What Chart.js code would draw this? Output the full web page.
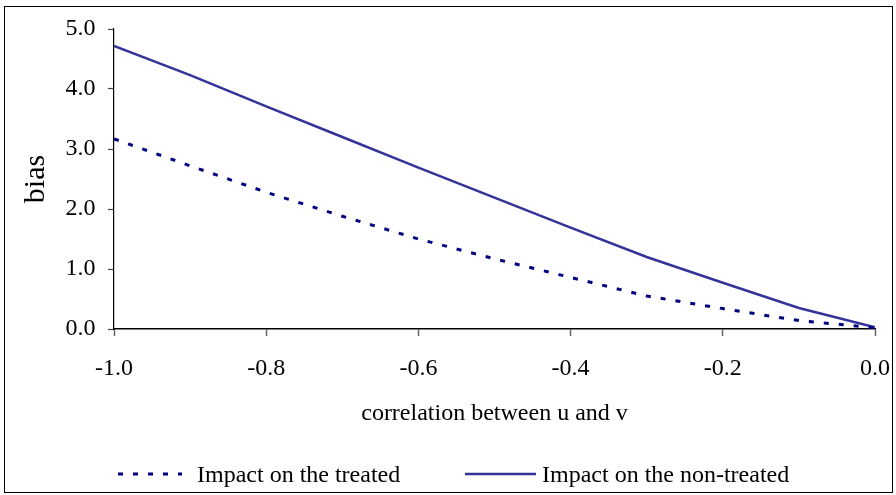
<!DOCTYPE html>
<html>
<head>
<meta charset="utf-8">
<script src="https://cdn.jsdelivr.net/npm/chart.js@4.4.1/dist/chart.umd.min.js"></script>
<style>
	html, body { margin: 0; padding: 0; background: #fff; }
	#wrap { width: 896px; height: 495px; }
</style>
</head>
<body>
<div id="wrap"><canvas id="c" width="896" height="495"></canvas></div>
<script>
// correlation between u and v
var corr = [-1.0, -0.9, -0.8, -0.7, -0.6, -0.5, -0.4, -0.3, -0.2, -0.1, 0.0];

// bias
var treated    = [3.17, 2.72, 2.28, 1.88, 1.50, 1.17, 0.86, 0.55, 0.34, 0.14, 0.02];
var nonTreated = [4.72, 4.23, 3.71, 3.20, 2.69, 2.19, 1.69, 1.20, 0.77, 0.35, 0.03];

var xTickLabels = ["-1.0", "-0.8", "-0.6", "-0.4", "-0.2", "0.0"];
var yTickLabels = ["0.0", "1.0", "2.0", "3.0", "4.0", "5.0"];

var seriesNames = ["Impact on the treated", "Impact on the non-treated"];

var FONT = "'Liberation Serif', 'Times New Roman', serif";

function toPoints(ys) {
	return corr.map(function(x, i) { return { x: x, y: ys[i] }; });
}

function findLabel(labels, v) {
	for(var i = 0; i < labels.length; i++) {
		if(Math.abs(parseFloat(labels[i]) - v) < 1e-6) return labels[i];
	}
	return "";
}

// 外枠
var framePlugin = {
	id: "frame",
	beforeDraw: function(chart) {
		var ctx = chart.ctx;
		ctx.save();
		ctx.fillStyle = "#fff";
		ctx.fillRect(0, 0, chart.width, chart.height);
		ctx.strokeStyle = "#000";
		ctx.lineWidth = 1;
		ctx.strokeRect(4.5, 6.5, 888, 486);
		ctx.restore();
	}
};

// 凡例 (datasets の線スタイルをそのまま使う)
var legendPlugin = {
	id: "sampleLegend",
	afterDraw: function(chart, args, opts) {
		var ctx = chart.ctx;
		ctx.save();
		ctx.font = opts.fontSize + "px " + FONT;
		ctx.textBaseline = "middle";
		ctx.textAlign = "left";
		ctx.fillStyle = "#000";
		chart.data.datasets.forEach(function(ds, i) {
			var it = opts.items[i];
			ctx.beginPath();
			ctx.setLineDash(ds.borderDash || []);
			ctx.lineCap = "butt";
			ctx.lineWidth = ds.borderWidth;
			ctx.strokeStyle = ds.borderColor;
			ctx.moveTo(it.x, opts.y);
			ctx.lineTo(it.x + it.w, opts.y);
			ctx.stroke();
			ctx.setLineDash([]);
			ctx.fillText(ds.label, it.x + it.w + it.gap, opts.y + 2);
		});
		ctx.restore();
	}
};

new Chart(document.getElementById("c").getContext("2d"), {
	type: "line",
	data: {
		datasets: [
			{
				label: seriesNames[0],
				data: toPoints(treated),
				borderColor: "#000080",
				backgroundColor: "#000080",
				borderWidth: 3,
				borderDash: [5, 10],
				borderCapStyle: "butt",
				pointRadius: 0,
				tension: 0,
				fill: false
			},
			{
				label: seriesNames[1],
				data: toPoints(nonTreated),
				borderColor: "#333399",
				backgroundColor: "#333399",
				borderWidth: 2.5,
				pointRadius: 0,
				tension: 0,
				fill: false
			}
		]
	},
	options: {
		responsive: false,
		animation: false,
		events: [],
		layout: {
			padding: { left: 0, right: 21, top: 29, bottom: 0 }
		},
		scales: {
			x: {
				type: "linear",
				min: -1,
				max: 0,
				afterFit: function(s) {
					s.height = 166;
					s.paddingLeft = 19;
					s.paddingRight = 15;
				},
				ticks: {
					stepSize: 0.2,
					padding: 18.6,
					color: "#000",
					font: { family: FONT, size: 24 },
					maxRotation: 0,
					callback: function(v) { return findLabel(xTickLabels, v); }
				},
				grid: { drawOnChartArea: false, drawTicks: true, tickLength: 7, tickColor: "#666", tickWidth: 1.5 },
				border: { display: true, color: "#000", width: 1.5 },
				title: {
					display: true,
					text: "correlation between u and v",
					color: "#000",
					font: { family: FONT, size: 24 },
					padding: { top: 0, bottom: 66.6 }
				}
			},
			y: {
				min: 0,
				max: 5,
				afterFit: function(s) { s.width = 114; },
				ticks: {
					stepSize: 1,
					padding: 12.5,
					color: "#000",
					font: { family: FONT, size: 24 },
					callback: function(v) { return findLabel(yTickLabels, v); }
				},
				grid: { drawOnChartArea: false, drawTicks: true, tickLength: 6, tickColor: "#444", tickWidth: 1.2 },
				border: { display: true, color: "#000", width: 1.2 },
				title: {
					display: true,
					text: "bias",
					color: "#000",
					font: { family: FONT, size: 30 },
					padding: { top: 18, bottom: 0 }
				}
			}
		},
		plugins: {
			tooltip: { enabled: false },
			legend: { display: false },
			sampleLegend: {
				fontSize: 24,
				y: 474,
				items: [
					{ x: 118, w: 64, gap: 15 },
					{ x: 465, w: 71, gap: 6 }
				]
			}
		}
	},
	plugins: [framePlugin, legendPlugin]
});
</script>
</body>
</html>
